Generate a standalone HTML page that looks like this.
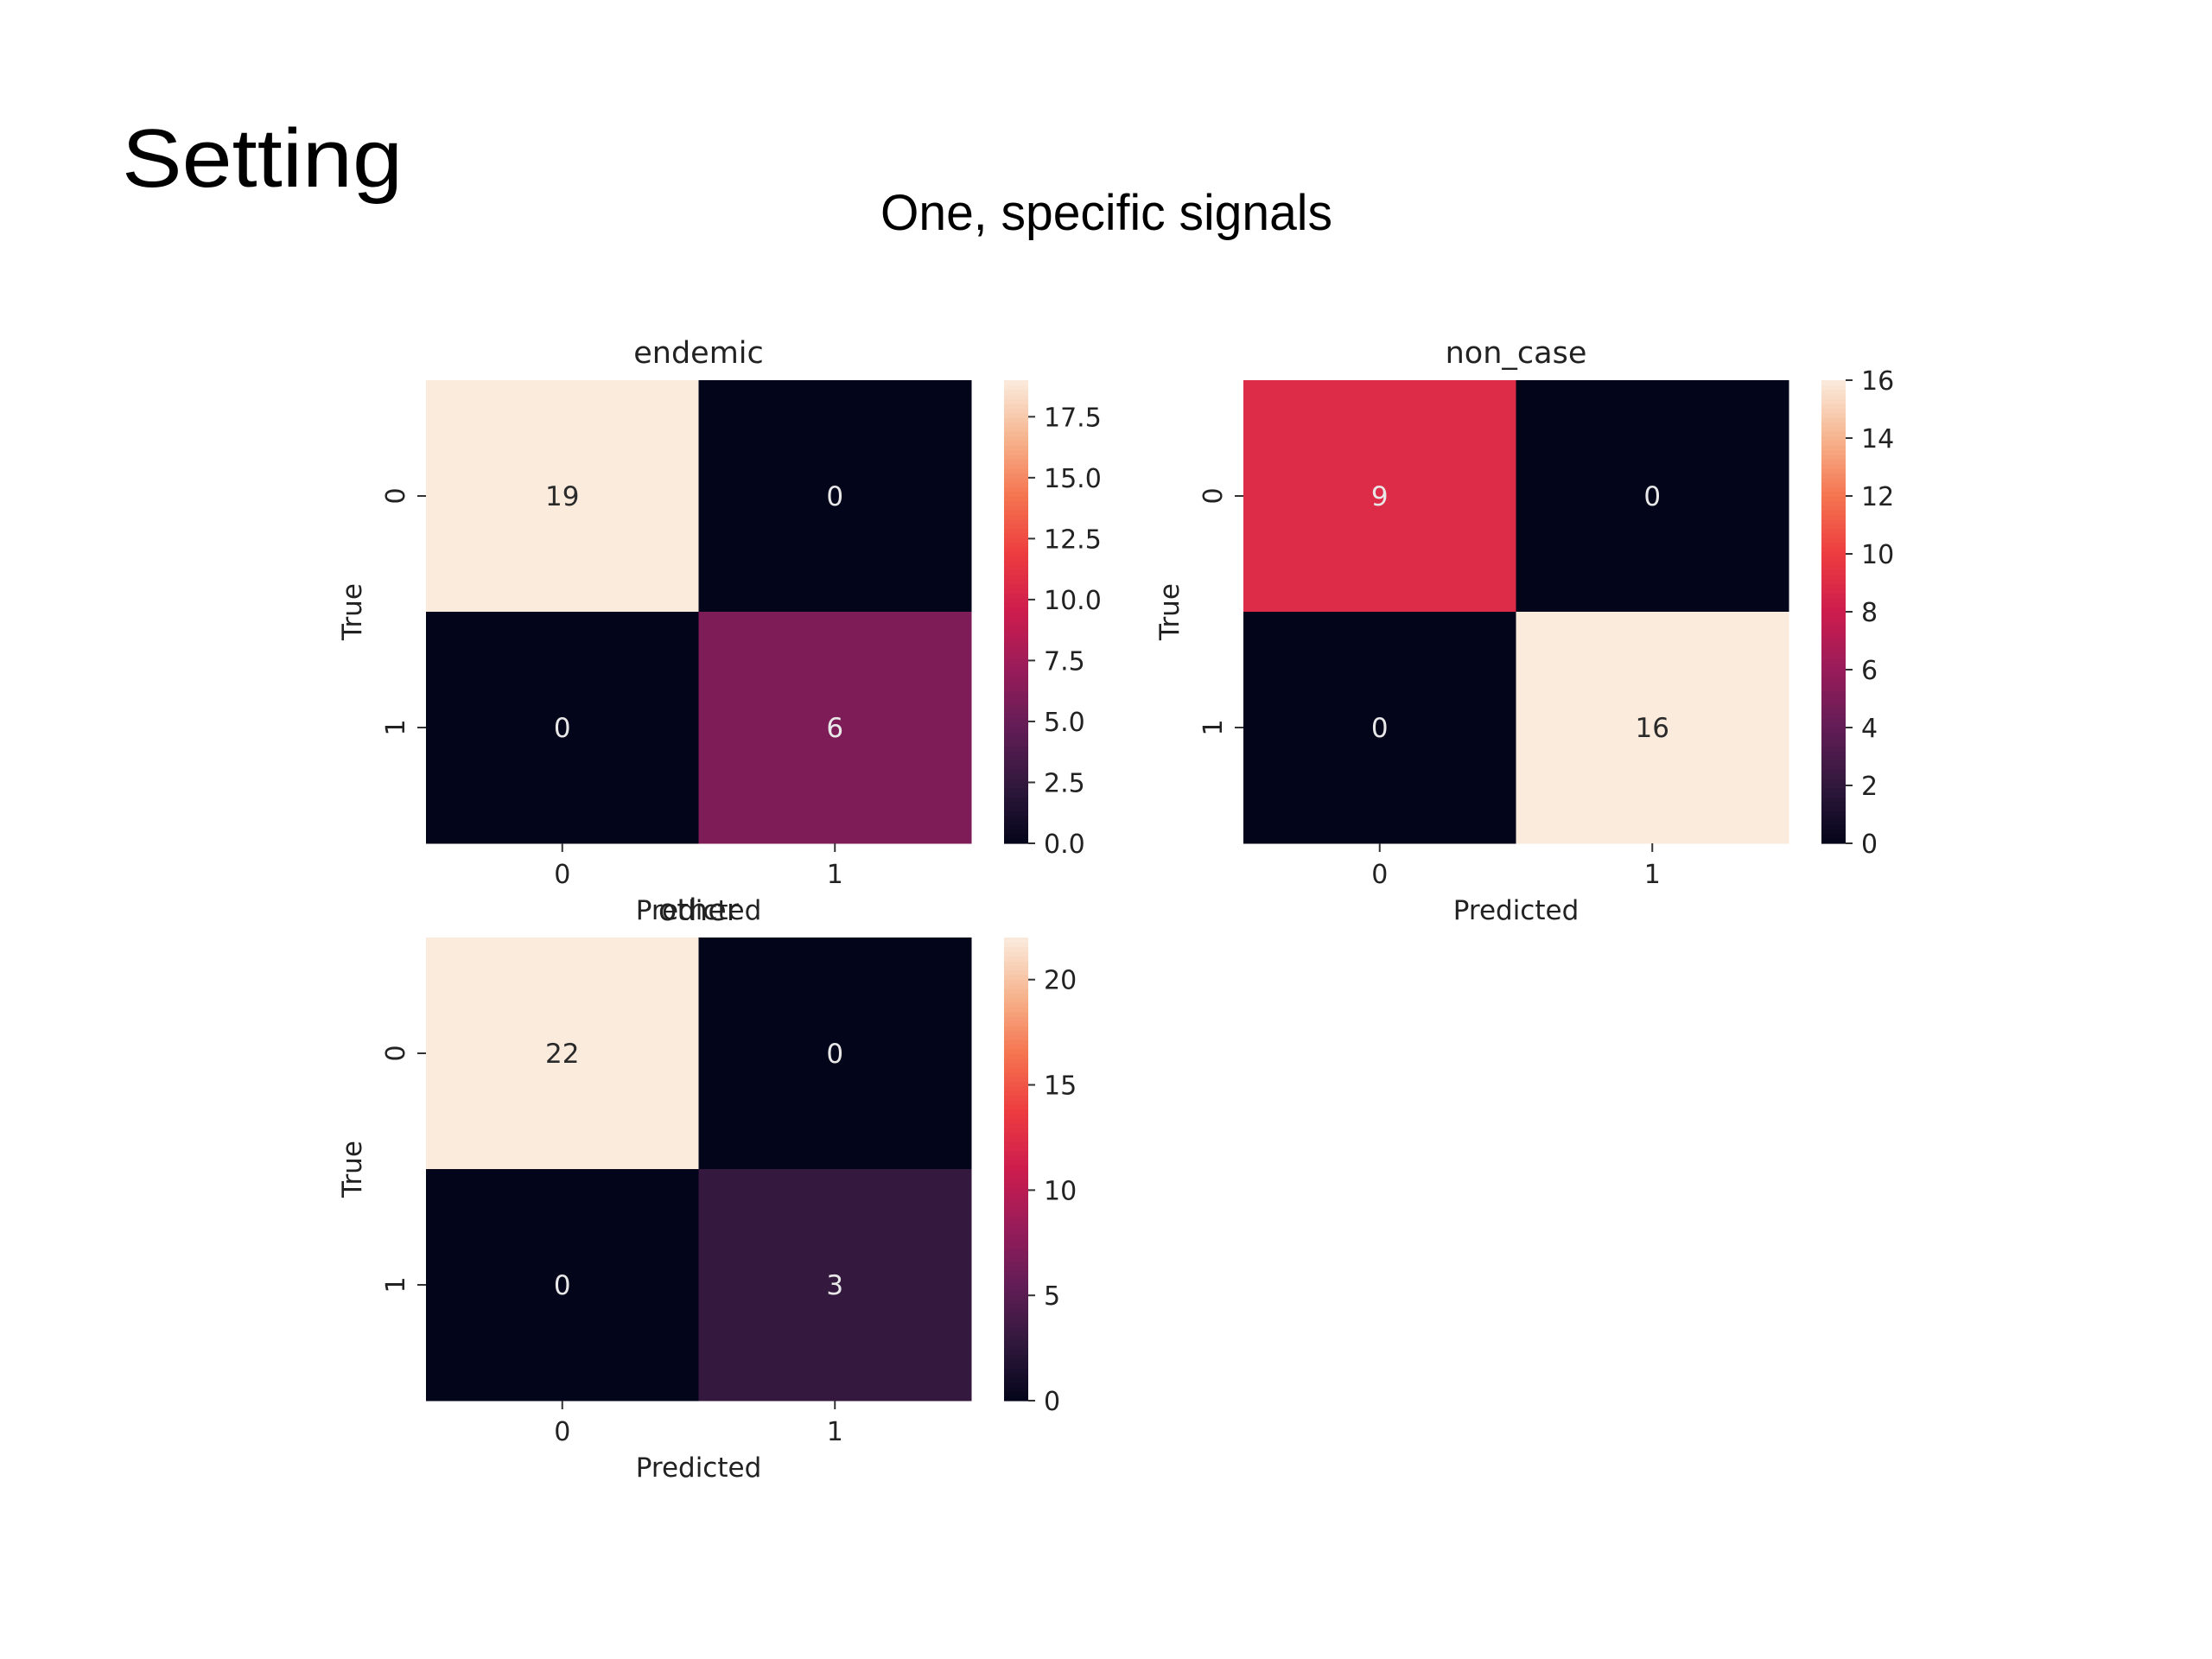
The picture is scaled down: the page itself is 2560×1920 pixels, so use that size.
<!DOCTYPE html>
<html><head><meta charset="utf-8"><style>
html,body{margin:0;padding:0;background:#fff;}
svg{display:block;}
</style></head><body>
<svg id="root" width="2560" height="1920" viewBox="0 0 2560 1920" xmlns="http://www.w3.org/2000/svg">
<rect width="2560" height="1920" fill="#fff"/>
<text x="141" y="216" font-family="'Liberation Sans',sans-serif" font-size="96" fill="#000" textLength="325" lengthAdjust="spacingAndGlyphs">Setting</text>
<text x="1019" y="266" font-family="'Liberation Sans',sans-serif" font-size="58" fill="#000" textLength="523" lengthAdjust="spacingAndGlyphs">One, specific signals</text>
<g id="charts"></g>
</svg>
<script>
// endemic
const endemicValues = [[19,0],[0,6]];
const endemicTicks = [0,2.5,5,7.5,10,12.5,15,17.5];
const endemicTickLabels = ["0.0","2.5","5.0","7.5","10.0","12.5","15.0","17.5"];
// non_case
const nonCaseValues = [[9,0],[0,16]];
const nonCaseTicks = [0,2,4,6,8,10,12,14,16];
const nonCaseTickLabels = ["0","2","4","6","8","10","12","14","16"];
// other
const otherValues = [[22,0],[0,3]];
const otherTicks = [0,5,10,15,20];
const otherTickLabels = ["0","5","10","15","20"];
const categories = ["0","1"];

const stops=[[0,[3,5,26]],[0.125,[48,24,60]],[0.25,[98,29,86]],[0.375,[152,28,90]],[0.5,[205,28,78]],[0.625,[237,60,63]],[0.75,[245,116,80]],[0.875,[246,180,142]],[1,[250,235,221]]];
function rocket(t){t=Math.max(0,Math.min(1,t));for(let i=1;i<stops.length;i++){if(t<=stops[i][0]){const a=stops[i-1],b=stops[i];const u=(t-a[0])/(b[0]-a[0]);const c=a[1].map((v,k)=>Math.round(v+(b[1][k]-v)*u));return `rgb(${c[0]},${c[1]},${c[2]})`;}}return 'rgb(250,235,221)';}
const NS="http://www.w3.org/2000/svg";
const root=document.getElementById('charts');
function mk(tag,attrs,parent,text){const e=document.createElementNS(NS,tag);for(const k in attrs)e.setAttribute(k,attrs[k]);if(text!==undefined)e.textContent=text;parent.appendChild(e);return e;}
const FONT="'DejaVu Sans','Liberation Sans',sans-serif";
function drawChart(id,values,ticks,tickLabels,title,x0,y0,showX){
  const W=631,H=536,cbX=x0+669,cbW=28;
  const vmax=Math.max(...values.flat());
  const g=mk('g',{},root);
  
  
  const xs=i=>x0+i*W/2, ys=j=>y0+j*H/2;
  const cy=v=>y0+H-v/vmax*H;
  for(let r=0;r<2;r++)for(let c=0;c<2;c++){
    const v=values[r][c];
    const rc=mk('rect',{x:xs(c),y:ys(r),width:W/2+0.5,height:H/2+0.5,fill:rocket(v/vmax)},g);
    
    
    const t=mk('text',{x:xs(c)+W/4,y:ys(r)+H/4+11,'text-anchor':'middle','font-family':FONT,'font-size':31,fill:v/vmax>0.6?'#2a2a2a':'#e8e8e8'},g,String(v));
    
    
  }
  for(let i=0;i<2;i++){
    mk('line',{x1:xs(i)+W/4,x2:xs(i)+W/4,y1:y0+H,y2:y0+H+10,stroke:'#333','stroke-width':2},g);
    const t=mk('text',{x:xs(i)+W/4,y:y0+H+46,'text-anchor':'middle','font-family':FONT,'font-size':30,fill:'#222'},g,categories[i]);
    
    
    mk('line',{x1:x0-10,x2:x0,y1:ys(i)+H/4,y2:ys(i)+H/4,stroke:'#333','stroke-width':2},g);
    const ty=ys(i)+H/4, tx=x0-25;
    const t2=mk('text',{x:tx,y:ty,'text-anchor':'middle','font-family':FONT,'font-size':30,fill:'#222',transform:`rotate(-90 ${tx} ${ty})`},g,categories[i]);
    
    
  }
  const tt=mk('text',{x:x0+W/2,y:y0-20,'text-anchor':'middle','font-family':FONT,'font-size':35,fill:'#222'},g,title);
  
  
  const yl=mk('text',{x:x0-75,y:y0+H/2,'text-anchor':'middle','font-family':FONT,'font-size':31,fill:'#222',transform:`rotate(-90 ${x0-75} ${y0+H/2})`},g,'True');
  
  
  if(showX){
    const xl=mk('text',{x:x0+W/2,y:y0+H+88,'text-anchor':'middle','font-family':FONT,'font-size':31,fill:'#222'},g,'Predicted');
    
    
  }
  const N=100;
  for(let k=0;k<N;k++){
    const v0=k/N*vmax,v1=(k+1)/N*vmax;
    const s=mk('rect',{x:cbX,y:cy(v1),width:cbW,height:cy(v0)-cy(v1)+0.6,fill:rocket((k+0.5)/N)},g);
    
    
  }
  ticks.forEach((v,i)=>{
    mk('line',{x1:cbX+cbW,x2:cbX+cbW+8,y1:cy(v),y2:cy(v),stroke:'#333','stroke-width':2},g);
    const t=mk('text',{x:cbX+cbW+18,y:cy(v)+11,'font-family':FONT,'font-size':30,fill:'#222'},g,tickLabels[i]);
    
    
  });
}
drawChart('endemic',endemicValues,endemicTicks,endemicTickLabels,'endemic',493,440,true);
drawChart('non-case',nonCaseValues,nonCaseTicks,nonCaseTickLabels,'non_case',1439,440,true);
drawChart('other',otherValues,otherTicks,otherTickLabels,'other',493,1085,true);
</script>
</body></html>
